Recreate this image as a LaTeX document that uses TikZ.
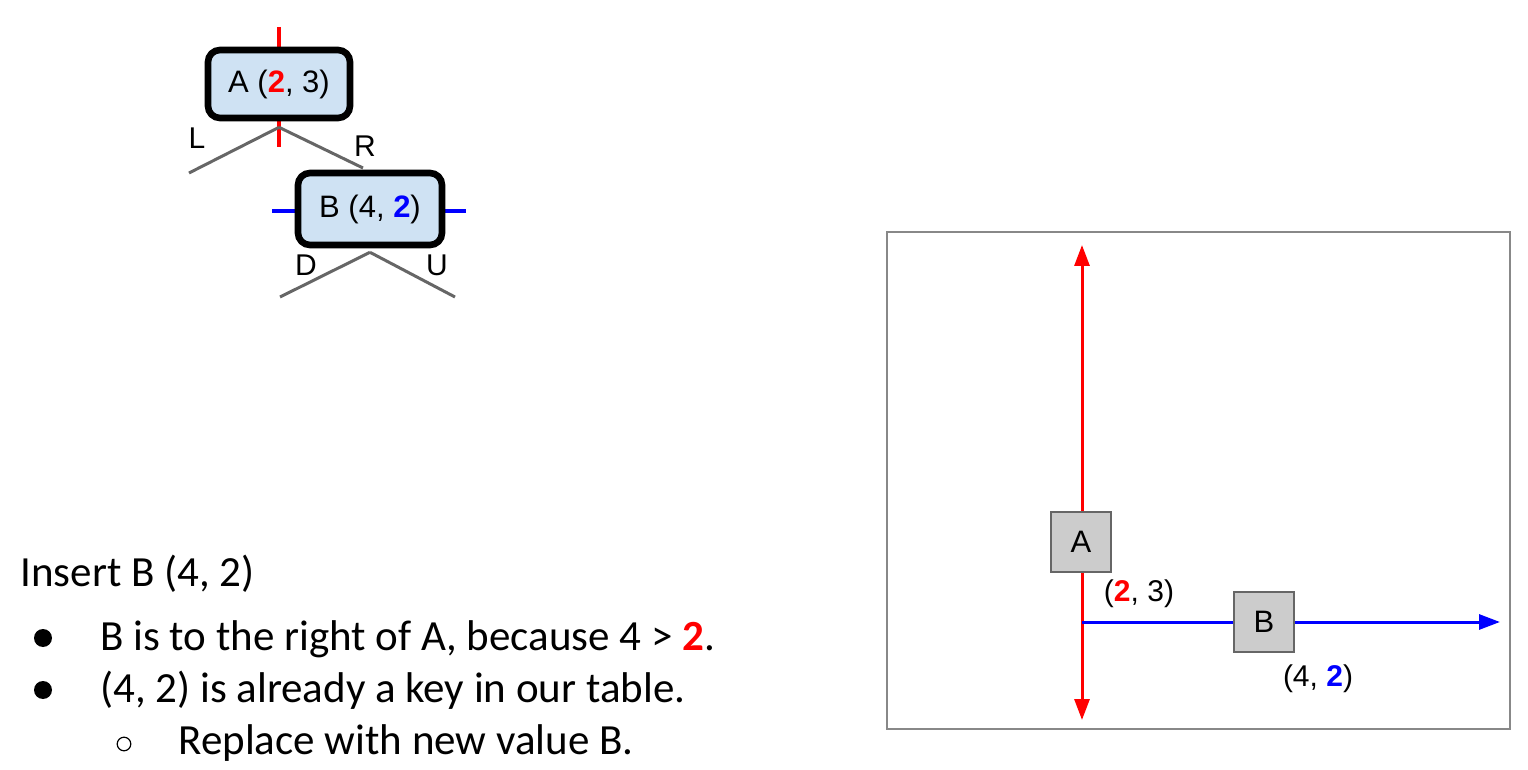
\documentclass[tikz,border=0pt]{standalone}
\usepackage{fontspec}
\setmainfont{Carlito}
\newfontfamily\arialfont{Liberation Sans}
\usetikzlibrary{arrows.meta,backgrounds}
\definecolor{nodeblue}{HTML}{CFE2F3}
\definecolor{boxgray}{HTML}{CCCCCC}
\definecolor{boxedge}{HTML}{666666}
\definecolor{edgegray}{HTML}{666666}
\definecolor{framegray}{HTML}{888888}
\newcommand{\kred}[1]{\textcolor{red}{\textbf{#1}}}
\newcommand{\kblue}[1]{\textcolor{blue}{\textbf{#1}}}
\tikzset{
  treenode/.style={draw, line width=3.3pt, rounded corners=6pt, fill=nodeblue,
    minimum width=71pt, minimum height=34pt, inner sep=0pt,
    font=\arialfont\fontsize{15.5}{17}\selectfont},
  branch/.style={edgegray, line width=1.5pt},
  branchlabel/.style={font=\arialfont\fontsize{15}{17}\selectfont, inner sep=0pt},
  pointbox/.style={draw=boxedge, line width=0.75pt, fill=boxgray,
    minimum size=30pt, inner sep=0pt, font=\arialfont\fontsize{15.5}{17}\selectfont},
  coordlabel/.style={font=\arialfont\fontsize{15}{17}\selectfont, inner sep=0pt},
  axis/.style={line width=1.5pt, -{Triangle[length=10.5pt,width=7.5pt]}},
  bodytext/.style={anchor=base west, inner sep=0pt, font=\fontsize{21.5}{26}\selectfont},
}
\begin{document}
\begin{tikzpicture}[x=0.5pt,y=-0.5pt]
  \useasboundingbox (0,0) rectangle (1528,770);
  % tree
  \node[treenode] (A) at (279,84) {A (\kred{2}, 3)};
  \node[treenode, minimum width=72pt, minimum height=36pt] (B) at (370,209) {B (4, \kblue{2})};
  \coordinate (Atop) at (279,27);
  \coordinate (Abot) at (279,147);
  \coordinate (Bleft) at (272,211);
  \coordinate (Bright) at (466,211);
  \coordinate (Lend) at (189,173);
  \coordinate (Rend) at (363,168);
  \coordinate (Dend) at (280,297);
  \coordinate (Uend) at (455,297);
  \begin{scope}[on background layer]
    \draw[red, line width=2pt] (Atop) -- (Abot);
    \draw[blue, line width=2pt] (Bleft) -- (Bright);
    \draw[branch] ([yshift=-3pt]A.south) -- (Lend);
    \draw[branch] ([yshift=-3pt]A.south) -- (Rend);
    \draw[branch] ([yshift=-2pt]B.south) -- (Dend);
    \draw[branch] ([yshift=-2pt]B.south) -- (Uend);
  \end{scope}
  \node[branchlabel] (L) at (197,138) {L};
  \node[branchlabel] (R) at (365,146) {R};
  \node[branchlabel] (D) at (306,265) {D};
  \node[branchlabel] (U) at (437,265) {U};
  % text
  \node[bodytext] (title) at (20,587) {Insert B (4, 2)};
  \fill (43,638) circle[radius=4.5pt];
  \node[bodytext] (item1) at (100,650) {B is to the right of A, because 4 > \kred{2}.};
  \fill (43,690) circle[radius=4.5pt];
  \node[bodytext] (item2) at (100,702) {(4, 2) is already a key in our table.};
  \draw[line width=0.6pt] (124,744) circle[radius=3.4pt];
  \node[bodytext] (item3) at (178,754) {Replace with new value B.};
  % plane
  \draw[framegray, line width=1pt] (887,232) rectangle (1510,729);
  \coordinate (ytop) at (1082,245);
  \coordinate (ybot) at (1082,720);
  \coordinate (origin) at (1082,622);
  \coordinate (xend) at (1500,622);
  \draw[axis, red, {Triangle[length=10.5pt,width=7.5pt]}-{Triangle[length=10.5pt,width=7.5pt]}] (ybot) -- (ytop);
  \draw[axis, blue] (origin) -- (xend);
  \node[pointbox] (PA) at (1081,542) {A};
  \node[pointbox] (PB) at (1264,622) {B};
  \node[coordlabel] (PAlabel) at (1139,594) {(\kred{2}, 3)};
  \node[coordlabel] (PBlabel) at (1318,679) {(4, \kblue{2})};
\end{tikzpicture}
\end{document}
